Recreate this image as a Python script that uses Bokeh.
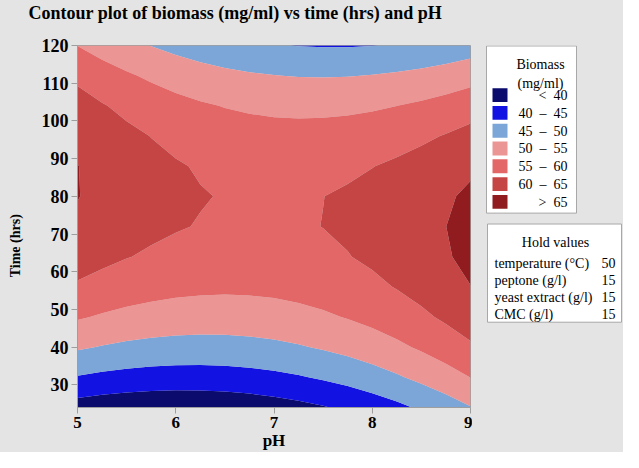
import numpy as np
from bokeh.plotting import figure
from bokeh.layouts import row
from bokeh.models import Label, BoxAnnotation, Range1d, FixedTicker, Title
from bokeh.embed import file_html
from bokeh.resources import INLINE

# ---------------- data ----------------
ph = [5.0, 5.25, 5.5, 5.75, 6.0, 6.25, 6.5, 6.75, 7.0, 7.25, 7.5, 7.75, 8.0, 8.25, 8.5, 8.75, 9.0]
time_hrs = [24, 32, 40, 48, 56, 64, 72, 80, 88, 96, 104, 112, 120]
# biomass (mg/ml): one row per time value, one column per pH value
biomass = [
    [37.81, 37.16, 36.69, 36.41, 36.31, 36.41, 36.69, 37.16, 37.81, 38.65, 39.68, 40.90, 42.30, 43.90, 45.68, 47.64, 49.79],  # 24 h
    [44.69, 43.94, 43.37, 42.99, 42.79, 42.78, 42.96, 43.33, 43.89, 44.63, 45.56, 46.67, 47.98, 49.47, 51.15, 53.01, 55.06],  # 32 h
    [50.58, 49.73, 49.06, 48.57, 48.28, 48.17, 48.25, 48.52, 48.97, 49.61, 50.44, 51.46, 52.66, 54.05, 55.63, 57.39, 59.34],  # 40 h
    [55.48, 54.52, 53.75, 53.17, 52.77, 52.57, 52.54, 52.71, 53.06, 53.60, 54.33, 55.25, 56.35, 57.64, 59.11, 60.78, 62.63],  # 48 h
    [59.39, 58.33, 57.46, 56.77, 56.28, 55.97, 55.85, 55.91, 56.16, 56.60, 57.23, 58.04, 59.04, 60.23, 61.61, 63.17, 64.92],  # 56 h
    [62.30, 61.14, 60.17, 59.39, 58.79, 58.38, 58.15, 58.12, 58.27, 58.61, 59.14, 59.85, 60.75, 61.84, 63.11, 64.57, 66.22],  # 64 h
    [64.22, 62.96, 61.89, 61.01, 60.31, 59.80, 59.47, 59.34, 59.39, 59.62, 60.05, 60.66, 61.46, 62.45, 63.62, 64.98, 66.53],  # 72 h
    [65.15, 63.79, 62.62, 61.63, 60.83, 60.22, 59.80, 59.56, 59.51, 59.65, 59.97, 60.48, 61.18, 62.07, 63.14, 64.40, 65.85],  # 80 h
    [65.09, 63.63, 62.36, 61.27, 60.37, 59.66, 59.13, 58.79, 58.64, 58.68, 58.90, 59.31, 59.91, 60.70, 61.67, 62.83, 64.18],  # 88 h
    [64.04, 62.48, 61.10, 59.91, 58.91, 58.10, 57.47, 57.03, 56.78, 56.72, 56.84, 57.15, 57.65, 58.33, 59.20, 60.26, 61.51],  # 96 h
    [61.99, 60.33, 58.85, 57.57, 56.46, 55.55, 54.82, 54.28, 53.93, 53.77, 53.79, 54.00, 54.39, 54.98, 55.75, 56.71, 57.85],  # 104 h
    [58.96, 57.19, 55.62, 54.23, 53.02, 52.01, 51.18, 50.54, 50.09, 49.82, 49.74, 49.85, 50.15, 50.63, 51.30, 52.16, 53.20],  # 112 h
    [54.93, 53.06, 51.38, 49.89, 48.59, 47.48, 46.55, 45.81, 45.25, 44.88, 44.70, 44.71, 44.91, 45.29, 45.86, 46.61, 47.56],  # 120 h
]
levels = [30, 40, 45, 50, 55, 60, 65, 70]
NB = "\u00a0"
band_labels = ["<" + NB * 2 + "40"] + \
              [f"{lo}{NB*2}\u2013{NB*2}{hi}" for lo, hi in zip(levels[1:-2], levels[2:-1])] + \
              [">" + NB * 2 + "65"]
band_colors = ["#0B0B6E", "#1212E2", "#7CA6D8", "#EC9595", "#E46767", "#C54545", "#901C1F"]
x_ticks = [5, 6, 7, 8, 9]
y_ticks = [30, 40, 50, 60, 70, 80, 90, 100, 110, 120]
hold_names = ["temperature (\u00b0C)", "peptone (g/l)", "yeast extract (g/l)", "CMC (g/l)"]
hold_values = [50, 15, 15, 15]
title_text = "Contour plot of biomass (mg/ml) vs time (hrs) and pH"

# ---------------- styling ----------------
BG = "#E4E4E4"
GRAY = "#9E9E9E"
FONT = "Liberation Serif"

# ---------------- main contour figure ----------------
p = figure(width=472, height=452, x_range=Range1d(5, 9), y_range=Range1d(24, 120),
           output_backend="svg", toolbar_location=None,
           min_border_left=77, min_border_right=2, min_border_top=44, min_border_bottom=0)
# an empty second title line lifts the title clear of the frame
p.title = Title(text=title_text + "\n" + NB, align="left", vertical_align="bottom",
                offset=-49, standoff=0, text_font=FONT, text_line_height=1.15,
                text_font_size="18px", text_font_style="bold", text_color="black")
p.border_fill_color = BG
p.border_fill_alpha = 1.0
p.background_fill_color = BG
p.background_fill_alpha = 1.0
p.outline_line_color = GRAY
p.xgrid.visible = False
p.ygrid.visible = False

cr = p.contour(x=ph, y=time_hrs, z=np.array(biomass), levels=levels, fill_color=band_colors)

p.xaxis.ticker = FixedTicker(ticks=x_ticks)
p.yaxis.ticker = FixedTicker(ticks=y_ticks)
p.xaxis.axis_label = "pH"
p.yaxis.axis_label = "Time (hrs)" + NB * 11
for ax in (p.xaxis[0], p.yaxis[0]):
    ax.major_label_text_font = FONT
    ax.major_label_text_font_style = "bold"
    ax.major_label_text_color = "black"
    ax.axis_label_text_font = FONT
    ax.axis_label_text_font_style = "bold"
    ax.axis_label_text_color = "black"
    ax.axis_line_color = GRAY
    ax.major_tick_line_color = GRAY
    ax.minor_tick_line_color = None
    ax.major_tick_in = 0
    ax.major_tick_out = 6
    ax.major_label_standoff = 3
p.xaxis.major_label_text_font_size = "17px"
p.yaxis.major_label_text_font_size = "18px"
p.xaxis.axis_label_text_font_size = "17px"
p.xaxis.axis_label_standoff = 0
p.yaxis.axis_label_text_font_size = "14px"
p.yaxis.axis_label_standoff = 16

# ---------------- side panel: legend + hold values ----------------
# The side plot's frame lines up with the main frame (page y 52..417); its ranges are
# expressed in page pixels (x to the right, y downwards) so the boxes are laid out directly.
side = figure(width=151, height=452, x_range=Range1d(480, 631), y_range=Range1d(417, 52),
              output_backend="svg", toolbar_location=None, x_axis_type=None, y_axis_type=None,
              min_border=0, tools="")
side.border_fill_color = BG
side.border_fill_alpha = 1.0
side.background_fill_color = BG
side.background_fill_alpha = 1.0
side.outline_line_color = None
side.xgrid.visible = False
side.ygrid.visible = False


def label(text, X, Y, size, align="left", baseline="alphabetic"):
    side.add_layout(Label(x=X, y=Y, text=text, text_font=FONT, text_font_size=f"{size}px",
                          text_align=align, text_baseline=baseline, text_color="black"))


def box(L, R, T, B, fill, line=None):
    side.add_layout(BoxAnnotation(left=L, right=R, top=T, bottom=B, fill_color=fill, fill_alpha=1.0,
                                  line_color=line, line_alpha=1.0, line_width=1))


# biomass legend
box(494, 584, 52.5, 221, "white", "#A8A8A8")
label("Biomass", 548, 71.5, 14, align="center")
label("(mg/ml)", 548, 90, 14, align="center")
for i, (txt, col) in enumerate(zip(band_labels, band_colors)):
    top = 95 + 17.95 * i
    box(500, 515, top, top + 14, col)
    label(txt, 575, top + 7.5, 14, align="right", baseline="middle")

# hold values box
box(495, 629, 232, 331, "white", "#A8A8A8")
label("Hold values", 563, 251, 14, align="center")
for i, (name, val) in enumerate(zip(hold_names, hold_values)):
    yb = 271.5 + 17.2 * i
    label(name, 502, yb, 14)
    label(str(val), 623, yb, 14, align="right")

layout = row(p, side, spacing=0, styles={"background-color": BG})
open("out.html", "w").write(file_html(layout, INLINE))
